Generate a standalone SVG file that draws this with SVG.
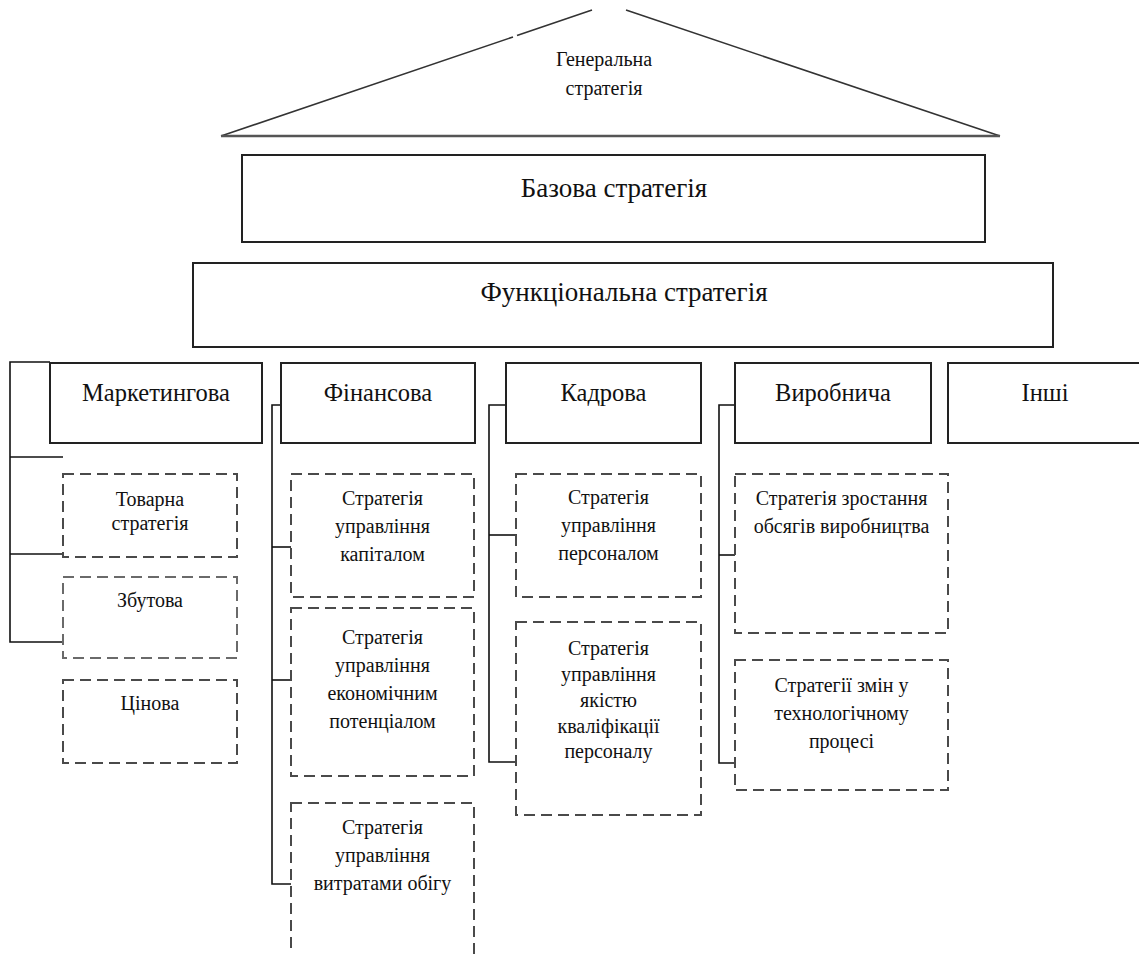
<svg xmlns="http://www.w3.org/2000/svg" width="1139" height="954" viewBox="0 0 1139 954">
<style>
text{font-family:"Liberation Serif","Times New Roman",serif;fill:#111;text-anchor:middle}
.solid{fill:#fff;stroke:#222;stroke-width:2}
.dash{fill:none;stroke:#4a4a4a;stroke-width:2;stroke-dasharray:11 6}
.conn{fill:none;stroke:#111;stroke-width:1.6}
.t27{font-size:27px}
.t24{font-size:24.5px}
.t20{font-size:20px}
</style>
<rect width="1139" height="954" fill="#fff"/>
<g id="general">
<path d="M221,136 L513,37 M517,35.6 L592,10" fill="none" stroke="#333" stroke-width="1.6"/>
<path d="M626,10 L1000,136" fill="none" stroke="#333" stroke-width="1.6"/>
<line x1="221" y1="136" x2="1000" y2="136" stroke="#555" stroke-width="2.5"/>
<text class="t20" x="604" y="66">Генеральна</text>
<text class="t20" x="604" y="95">стратегія</text>
</g>
<g id="base">
<rect class="solid" x="242" y="155" width="743" height="87"/>
<text class="t27" x="614" y="197">Базова стратегія</text>
</g>
<g id="functional">
<rect class="solid" x="193" y="263" width="860" height="84"/>
<text class="t27" x="624" y="301">Функціональна стратегія</text>
</g>
<g id="connectors">
<polyline class="conn" points="50,362 10,362 10,642 63,642"/>
<line class="conn" x1="10" y1="457" x2="63" y2="457"/>
<line class="conn" x1="10" y1="554" x2="63" y2="554"/>
<polyline class="conn" points="281,405 272,405 272,884 291,884"/>
<line class="conn" x1="272" y1="547" x2="291" y2="547"/>
<line class="conn" x1="272" y1="680" x2="291" y2="680"/>
<polyline class="conn" points="506,405 489,405 489,762 517,762"/>
<line class="conn" x1="489" y1="535" x2="517" y2="535"/>
<polyline class="conn" points="735,405 719,405 719,763 735,763"/>
<line class="conn" x1="719" y1="555" x2="735" y2="555"/>
</g>
<g id="marketing">
<rect class="solid" x="50" y="363" width="212" height="80"/>
<text class="t24" x="156" y="401">Маркетингова</text>
</g>
<g id="finance">
<rect class="solid" x="281" y="363" width="194" height="80"/>
<text class="t24" x="378" y="401">Фінансова</text>
</g>
<g id="hr">
<rect class="solid" x="506" y="363" width="195" height="80"/>
<text class="t24" x="603.5" y="401">Кадрова</text>
</g>
<g id="production">
<rect class="solid" x="735" y="363" width="196" height="80"/>
<text class="t24" x="833" y="401">Виробнича</text>
</g>
<g id="other">
<rect class="solid" x="948" y="363" width="194" height="80"/>
<text class="t24" x="1045" y="401">Інші</text>
</g>
<g id="m-product">
<rect class="dash" x="63" y="474" width="174" height="83"/>
<text class="t20" x="150" y="506">Товарна</text>
<text class="t20" x="150" y="530">стратегія</text>
</g>
<g id="m-sales">
<rect class="dash" x="63" y="577" width="174" height="81" style="stroke:#6a6a6a"/>
<text class="t20" x="150" y="607">Збутова</text>
</g>
<g id="m-price">
<rect class="dash" x="63" y="680" width="174" height="83"/>
<text class="t20" x="150" y="710">Цінова</text>
</g>
<g id="f-capital">
<rect class="dash" x="291" y="474" width="183" height="123"/>
<text class="t20" x="382.5" y="505">Стратегія</text>
<text class="t20" x="382.5" y="533">управління</text>
<text class="t20" x="382.5" y="561">капіталом</text>
</g>
<g id="f-potential">
<rect class="dash" x="291" y="608" width="183" height="168"/>
<text class="t20" x="382.5" y="644">Стратегія</text>
<text class="t20" x="382.5" y="672">управління</text>
<text class="t20" x="382.5" y="700">економічним</text>
<text class="t20" x="382.5" y="728">потенціалом</text>
</g>
<g id="f-costs">
<rect class="dash" x="291" y="803" width="183" height="170"/>
<text class="t20" x="382.5" y="834">Стратегія</text>
<text class="t20" x="382.5" y="862">управління</text>
<text class="t20" x="382.5" y="890">витратами обігу</text>
</g>
<g id="h-personnel">
<rect class="dash" x="516" y="474" width="185" height="123"/>
<text class="t20" x="608.5" y="504">Стратегія</text>
<text class="t20" x="608.5" y="532">управління</text>
<text class="t20" x="608.5" y="560">персоналом</text>
</g>
<g id="h-quality">
<rect class="dash" x="516" y="622" width="185" height="193"/>
<text class="t20" x="608.5" y="655">Стратегія</text>
<text class="t20" x="608.5" y="681">управління</text>
<text class="t20" x="608.5" y="707">якістю</text>
<text class="t20" x="608.5" y="733">кваліфікації</text>
<text class="t20" x="608.5" y="758">персоналу</text>
</g>
<g id="p-growth">
<rect class="dash" x="735" y="474" width="213" height="159"/>
<text class="t20" x="841.5" y="505">Стратегія зростання</text>
<text class="t20" x="841.5" y="533">обсягів виробництва</text>
</g>
<g id="p-tech">
<rect class="dash" x="735" y="660" width="213" height="130"/>
<text class="t20" x="841.5" y="692">Стратегії змін у</text>
<text class="t20" x="841.5" y="720">технологічному</text>
<text class="t20" x="841.5" y="748">процесі</text>
</g>
</svg>
